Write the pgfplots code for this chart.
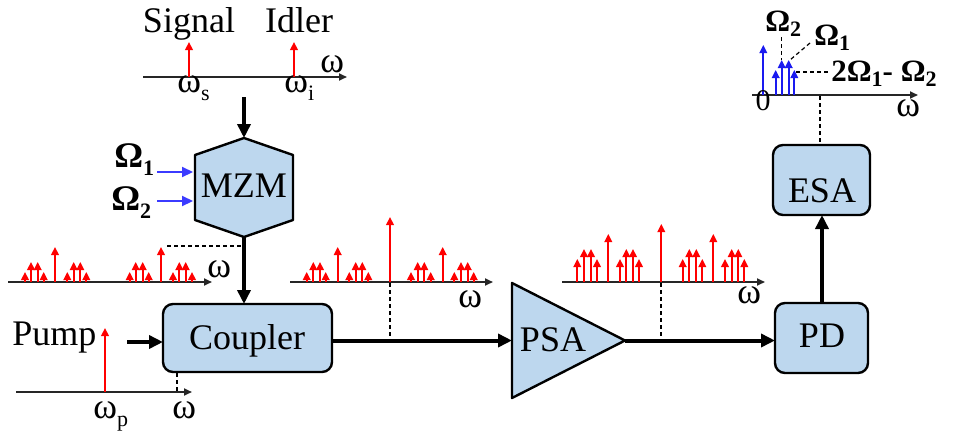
\documentclass[border=0pt]{standalone}
\usepackage{pgfplots}
\pgfplotsset{compat=1.18}
\usetikzlibrary{arrows.meta}
\usepackage{fontspec}
\setmainfont{Liberation Serif}
\newfontfamily\tnr{Liberation Serif}

\definecolor{boxfill}{HTML}{BDD7EE}
\definecolor{sigblue}{HTML}{3B3BFF}
\definecolor{rfblue}{HTML}{1A1AF0}
\definecolor{axgray}{HTML}{262626}

\newcommand{\sub}[2][4pt]{\raisebox{-#1}{\fontsize{11}{11}\selectfont #2}}

\tikzset{
  lbl/.style={font=\tnr\fontsize{18}{20}\selectfont, inner sep=0pt},
  blbl/.style={font=\tnr\fontsize{18}{20}\selectfont\bfseries, inner sep=0pt},
  slbl/.style={font=\tnr\fontsize{15}{17}\selectfont, inner sep=0pt},
  sblbl/.style={font=\tnr\fontsize{15.5}{17}\selectfont\bfseries, inner sep=0pt},
  blk/.style={draw=black, line width=1.2pt, fill=boxfill, rounded corners=5pt},
  bigarrow/.style={line width=2pt, -{Triangle[length=7pt,width=6.5pt]}},
  specax/.style={axgray, line width=0.9pt, -{Triangle[length=4pt,width=3.5pt]}},
  dsh/.style={black, line width=0.6pt, dash pattern=on 2pt off 1.5pt},
}
\pgfplotsset{
  stem/.style={line width=0.85pt, -{Triangle[length=4pt,width=3.8pt]}, quiver={u=0, v=-\thisrow{h}}},
}

\begin{document}
\begin{tikzpicture}
\begin{axis}[scale only axis, width=477pt, height=217pt,
  xmin=0, xmax=954, ymin=0, ymax=434, y dir=reverse,
  hide axis, clip=false]
\path (axis cs:0,0) (axis cs:954,434);

% ---------- blocks ----------
\draw[draw=black, line width=1.2pt, fill=boxfill, line join=round]
  (axis cs:244,138) -- (axis cs:293,155) -- (axis cs:293,220) -- (axis cs:244,237)
  -- (axis cs:195,220) -- (axis cs:195,155) -- cycle;
\draw[blk] (axis cs:163,304) rectangle (axis cs:332,372);
\draw[draw=black, line width=1.2pt, fill=boxfill, line join=round]
  (axis cs:512,283) -- (axis cs:625,340.5) -- (axis cs:512,398) -- cycle;
\draw[blk] (axis cs:773,145) rectangle (axis cs:870,215);
\draw[blk] (axis cs:775,303) rectangle (axis cs:868,373);

\node[lbl, anchor=base] at (axis cs:244,197) {MZM};
\node[lbl, anchor=base] at (axis cs:247,349) {Coupler};
\node[lbl, anchor=base] at (axis cs:553,351) {PSA};
\node[lbl, anchor=base] at (axis cs:822,202) {ESA};
\node[lbl, anchor=base] at (axis cs:822,347) {PD};

% ---------- black arrows ----------
\draw[bigarrow] (axis cs:244,97) -- (axis cs:244,138);
\draw[bigarrow] (axis cs:244,237) -- (axis cs:244,304);
\draw[bigarrow] (axis cs:127,342) -- (axis cs:163,342);
\draw[bigarrow] (axis cs:332,340.5) -- (axis cs:512,340.5);
\draw[bigarrow] (axis cs:625,340.5) -- (axis cs:775,340.5);
\draw[bigarrow] (axis cs:822,303) -- (axis cs:822,215);

% ---------- blue RF inputs ----------
\draw[sigblue, line width=1.1pt, -{Triangle[length=5.5pt,width=5pt]}] (axis cs:157,172) -- (axis cs:193,172);
\draw[sigblue, line width=1.1pt, -{Triangle[length=5.5pt,width=5pt]}] (axis cs:157,201) -- (axis cs:193,201);
\node[blbl, anchor=base west] at (axis cs:114,167) {Ω\sub{1}};
\node[blbl, anchor=base west] at (axis cs:111,210) {Ω\sub{2}};

% ---------- spectrum axes ----------
\draw[specax] (axis cs:143,77) -- (axis cs:347,77);
\draw[specax] (axis cs:8,282) -- (axis cs:212,282);
\draw[specax] (axis cs:290,282) -- (axis cs:493,282);
\draw[specax] (axis cs:562,282) -- (axis cs:765,282);
\draw[specax] (axis cs:16,392) -- (axis cs:192,392);
\draw[specax] (axis cs:752,95) -- (axis cs:918,95);

% ---------- dashed connectors ----------
\draw[dsh] (axis cs:167,246) -- (axis cs:242,246);
\draw[dsh] (axis cs:390,283) -- (axis cs:390,339);
\draw[dsh] (axis cs:661,283) -- (axis cs:661,339);
\draw[dsh] (axis cs:177,373) -- (axis cs:177,391);
\draw[dsh] (axis cs:820,96) -- (axis cs:820,144);
\draw[dsh] (axis cs:781.7,37) -- (axis cs:781.7,60);
\draw[dsh] (axis cs:810,43) -- (axis cs:790,60);
\draw[dsh] (axis cs:796,72) -- (axis cs:830,72);

% ---------- spectral lines (data) ----------
% signal / idler
\addplot[red, stem] table[x=x, y=y] {
x y h
189 77 35
294 77 35
};
% pump
\addplot[red, stem] table[x=x, y=y] {
x y h
105 392 64
};
% after MZM
\addplot[red, stem] table[x=x, y=y] {
x y h
25 282 10
31 282 20
37.7 282 20
43.7 282 10
55 282 35
67.3 282 10
73.7 282 20
80.3 282 20
86.3 282 10
129.7 282 10
135.7 282 20
142.7 282 20
148.7 282 10
161 282 35
173 282 10
179.3 282 20
185.7 282 20
192 282 10
};
% after coupler
\addplot[red, stem] table[x=x, y=y] {
x y h
306.7 282 10
313.3 282 20
320 282 20
325.7 282 10
337.7 282 35
349.3 282 10
355.7 282 20
362.3 282 20
368.3 282 10
390 282 65
411 282 10
417.7 282 20
424.3 282 20
430.7 282 10
442.7 282 35
454.3 282 10
461 282 20
467.7 282 20
473.7 282 10
};
% after PSA
\addplot[red, stem] table[x=x, y=y] {
x y h
577.3 282 23
584 282 33
591 282 33
597 282 23
608.3 282 48
620 282 23
626.3 282 33
633 282 33
639 282 23
661.3 282 58
682.7 282 23
689.3 282 33
696.3 282 33
702.3 282 23
713.3 282 48
725 282 23
731.7 282 33
738.3 282 33
744.3 282 23
};
% ESA (RF) spectrum
\addplot[rfblue, stem] table[x=x, y=y] {
x y h
763.3 95 50
775.7 95 25
781.7 95 35
788.7 95 35
794.3 95 25
};

% ---------- spectrum labels ----------
\node[lbl, anchor=base] at (axis cs:189,32) {Signal};
\node[lbl, anchor=base] at (axis cs:299,32) {Idler};
\node[lbl, anchor=base west] at (axis cs:320,72) {ω};
\node[lbl, anchor=base west] at (axis cs:177,92) {ω\sub{s}};
\node[lbl, anchor=base west] at (axis cs:284,92) {ω\sub{i}};
\node[lbl, anchor=base west] at (axis cs:207,277) {ω};
\node[lbl, anchor=base west] at (axis cs:458,307) {ω};
\node[lbl, anchor=base west] at (axis cs:737,303) {ω};
\node[lbl, anchor=base west] at (axis cs:12,345) {Pump};
\node[lbl, anchor=base west] at (axis cs:93,418) {ω\sub{p}};
\node[lbl, anchor=base west] at (axis cs:172,418) {ω};
\node[slbl, anchor=base] at (axis cs:763,110) {0};
\node[lbl, anchor=base west] at (axis cs:896,116) {ω};
\node[sblbl, anchor=base west] at (axis cs:765,31) {Ω\sub[2.5pt]{2}};
\node[sblbl, anchor=base west] at (axis cs:814,45) {Ω\sub[2.5pt]{1}};
\node[sblbl, anchor=base west] at (axis cs:831,81) {2Ω\sub[2.5pt]{1}- Ω\sub[2.5pt]{2}};
\end{axis}
\end{tikzpicture}
\end{document}
